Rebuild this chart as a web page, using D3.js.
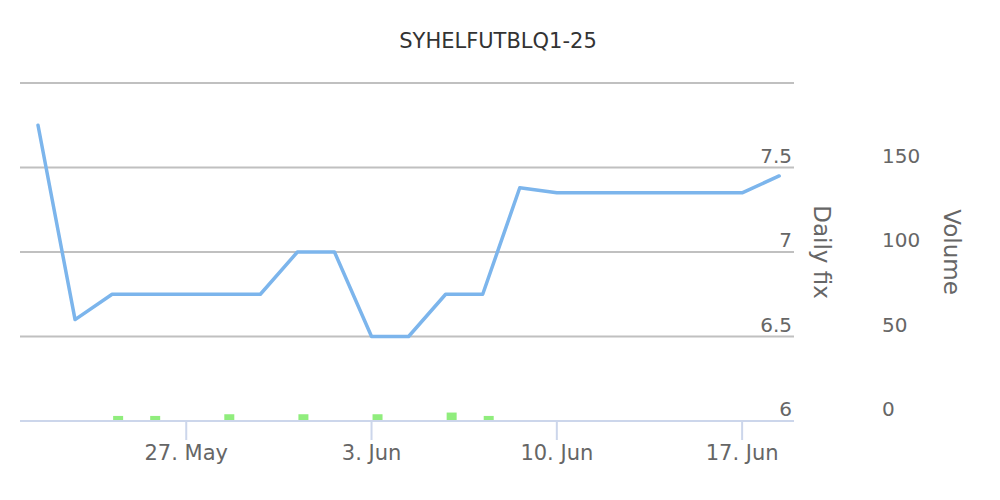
<!DOCTYPE html>
<html>
<head>
<meta charset="utf-8">
<script src="https://cdn.jsdelivr.net/npm/d3@7"></script>
<style>
  html, body { margin: 0; padding: 0; background: #fff; }
  svg { display: block; font-family: "DejaVu Sans", sans-serif; }
</style>
</head>
<body>
<svg id="chart" width="1000" height="500"></svg>
<script>
// ---- data ----
const title = "SYHELFUTBLQ1-25";
const dates = ["2024-05-21","2024-05-22","2024-05-23","2024-05-24","2024-05-27","2024-05-28",
  "2024-05-29","2024-05-30","2024-05-31","2024-06-03","2024-06-04","2024-06-05","2024-06-06",
  "2024-06-07","2024-06-10","2024-06-11","2024-06-12","2024-06-13","2024-06-14","2024-06-17","2024-06-18"];
const dailyFix = [7.75, 6.6, 6.75, 6.75, 6.75, 6.75, 6.75, 7.0, 7.0, 6.5, 6.5, 6.75, 6.75,
  7.38, 7.35, 7.35, 7.35, 7.35, 7.35, 7.35, 7.45];
const volumeDates = ["2024-05-23","2024-05-24","2024-05-28","2024-05-30","2024-06-03","2024-06-05","2024-06-06"];
const volumes = [3, 3, 4, 4, 4, 5, 3];
const xTickDates = ["2024-05-27","2024-06-03","2024-06-10","2024-06-17"];
const xTickLabels = ["27. May","3. Jun","10. Jun","17. Jun"];
const fixTicks = [6, 6.5, 7, 7.5, 8];
const fixTickLabels = ["6", "6.5", "7", "7.5", ""];
const volTicks = [0, 50, 100, 150, 200];
const volTickLabels = ["0", "50", "100", "150", ""];

// ---- layout ----
const svg = d3.select("#chart");
const plotLeft = 20, plotRight = 794, plotTop = 83, plotBottom = 421;

// ordinal-style axis: equally spaced trading days
const idx = d => dates.indexOf(d);
const x = d3.scaleLinear().domain([-0.486, 20.4]).range([plotLeft, plotRight]);
const yFix = d3.scaleLinear().domain([6, 8]).range([plotBottom, plotTop]);
const yVol = d3.scaleLinear().domain([0, 200]).range([plotBottom, plotTop]);

// title
svg.append("text")
  .attr("x", 498).attr("y", 48)
  .attr("text-anchor", "middle")
  .attr("fill", "#333").attr("font-size", 21)
  .text(title);

// gridlines
svg.append("g").selectAll("line")
  .data(fixTicks.slice(1))
  .join("line")
  .attr("x1", plotLeft).attr("x2", plotRight)
  .attr("y1", d => yFix(d)).attr("y2", d => yFix(d))
  .attr("stroke", "#c0c0c0").attr("stroke-width", 2);

// Daily fix axis labels (right aligned, above gridline)
svg.append("g").selectAll("text")
  .data(fixTicks)
  .join("text")
  .attr("x", 792).attr("y", d => yFix(d) - 5)
  .attr("text-anchor", "end")
  .attr("fill", "#666").attr("font-size", 20)
  .text((d, i) => fixTickLabels[i]);

// Volume axis labels
svg.append("g").selectAll("text")
  .data(volTicks)
  .join("text")
  .attr("x", 882).attr("y", d => yVol(d) - 5)
  .attr("text-anchor", "start")
  .attr("fill", "#666").attr("font-size", 20)
  .text((d, i) => volTickLabels[i]);

// axis titles
svg.append("text")
  .attr("transform", `translate(814, ${(plotTop + plotBottom) / 2}) rotate(90)`)
  .attr("text-anchor", "middle")
  .attr("fill", "#666").attr("font-size", 23)
  .text("Daily fix");
svg.append("text")
  .attr("transform", `translate(944, ${(plotTop + plotBottom) / 2}) rotate(90)`)
  .attr("text-anchor", "middle")
  .attr("fill", "#666").attr("font-size", 23)
  .text("Volume");

// volume columns
const barW = 10, barOffset = 6;
svg.append("g").selectAll("rect")
  .data(volumes)
  .join("rect")
  .attr("x", (d, i) => x(idx(volumeDates[i])) + barOffset - barW / 2)
  .attr("width", barW)
  .attr("y", d => yVol(d))
  .attr("height", d => yVol(0) - yVol(d))
  .attr("fill", "#90ed7d");

// x axis line
svg.append("line")
  .attr("x1", plotLeft).attr("x2", plotRight)
  .attr("y1", plotBottom).attr("y2", plotBottom)
  .attr("stroke", "#ccd6eb").attr("stroke-width", 2);

// x ticks
const xt = svg.append("g");
xt.selectAll("line")
  .data(xTickDates)
  .join("line")
  .attr("x1", d => x(idx(d))).attr("x2", d => x(idx(d)))
  .attr("y1", plotBottom).attr("y2", plotBottom + 19)
  .attr("stroke", "#ccd6eb").attr("stroke-width", 2);
xt.selectAll("text")
  .data(xTickDates)
  .join("text")
  .attr("x", d => x(idx(d))).attr("y", 460)
  .attr("text-anchor", "middle")
  .attr("fill", "#666").attr("font-size", 21)
  .text((d, i) => xTickLabels[i]);

// daily fix line
const line = d3.line()
  .x((d, i) => x(i))
  .y(d => yFix(d));
svg.append("path")
  .datum(dailyFix)
  .attr("d", line)
  .attr("fill", "none")
  .attr("stroke", "#7cb5ec")
  .attr("stroke-width", 3.5)
  .attr("stroke-linejoin", "round")
  .attr("stroke-linecap", "round");
</script>
</body>
</html>
